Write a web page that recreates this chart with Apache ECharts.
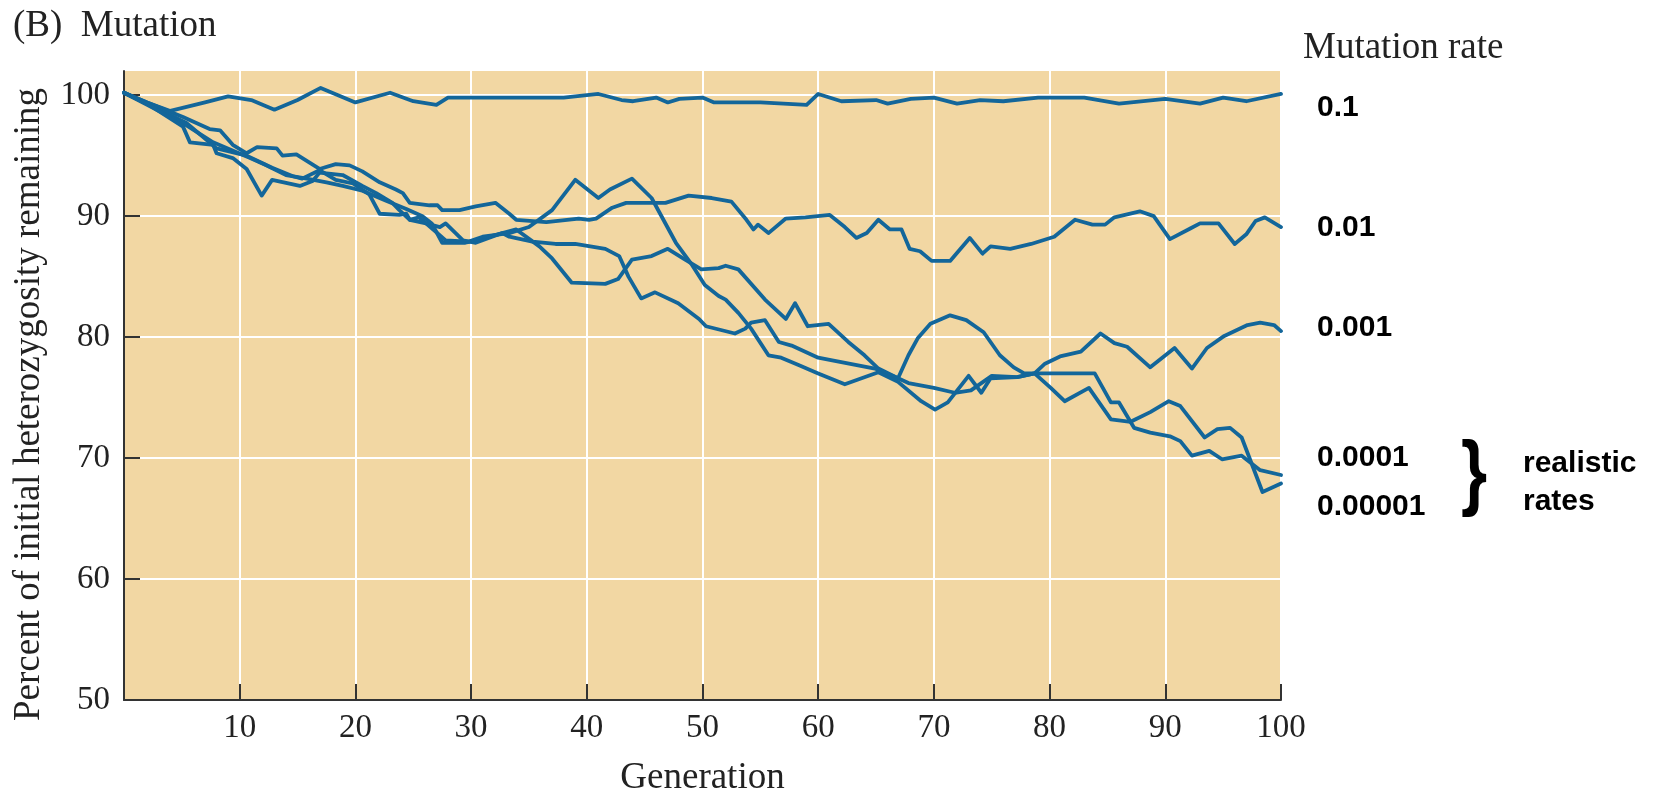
<!DOCTYPE html>
<html>
<head>
<meta charset="utf-8">
<script src="https://cdn.jsdelivr.net/npm/echarts@6/dist/echarts.min.js"></script>
<style>
html,body{margin:0;padding:0;background:#fff;overflow:hidden;}
#chart{width:1657px;height:791px;}
</style>
</head>
<body>
<div id="chart"></div>
<script>
// ---- Data: [generation, percent of initial heterozygosity remaining] ----
const rateLabels = ['0.1', '0.01', '0.001', '0.0001', '0.00001'];

const rate_0_1 = [[0,100.2],[2,99.4],[4,98.7],[7,99.4],[9,99.9],[11,99.6],[13,98.8],[15,99.6],[17,100.6],[20,99.4],[23,100.2],[25,99.5],[27,99.2],[28,99.8],[31,99.8],[35,99.8],[38,99.8],[41,100.1],[43,99.6],[44,99.5],[46,99.8],[47,99.4],[48,99.7],[50,99.8],[51,99.4],[55,99.4],[59,99.2],[60,100.1],[62,99.5],[65,99.6],[66,99.3],[68,99.7],[70,99.8],[72,99.3],[74,99.6],[76,99.5],[79,99.8],[83,99.8],[86,99.3],[90,99.7],[93,99.3],[95,99.8],[97,99.5],[100,100.1]];

const rate_0_01 = [[0,100.2],[2,99.4],[5.1,98.2],[7.4,97.2],[8.3,97.1],[9.4,95.9],[10.6,95.2],[11.5,95.7],[13.2,95.6],[13.7,95.0],[14.9,95.1],[16.9,93.9],[18.3,94.3],[19.5,94.2],[20.6,93.7],[22.1,92.8],[23.5,92.2],[24.1,91.9],[24.7,91.1],[26.4,90.9],[27.1,90.9],[27.5,90.5],[29,90.5],[30.4,90.8],[32.1,91.1],[33.3,90.2],[33.9,89.7],[36.5,89.5],[39.3,89.8],[40.2,89.7],[40.8,89.8],[42.2,90.7],[43.4,91.1],[45.6,91.1],[46.8,91.1],[48.8,91.7],[50.8,91.5],[52.5,91.2],[53.8,89.7],[54.4,88.9],[54.8,89.3],[55.7,88.6],[57.2,89.8],[58.9,89.9],[61,90.1],[62.3,89.1],[63.3,88.2],[64.2,88.6],[65.2,89.7],[66.2,88.9],[67.2,88.9],[67.9,87.3],[68.8,87.1],[69.8,86.3],[71.4,86.3],[73.1,88.2],[74.2,86.9],[74.9,87.5],[76.6,87.3],[78.4,87.7],[80.4,88.3],[82.2,89.7],[83.7,89.3],[84.8,89.3],[85.6,89.9],[87.8,90.4],[89,90.0],[90.4,88.1],[92.2,89.0],[93,89.4],[94.6,89.4],[96,87.7],[97,88.5],[97.8,89.6],[98.6,89.9],[100,89.1]];

const rate_0_001 = [[0,100.2],[2,99.3],[5.4,97.7],[8,95.6],[10.6,95.0],[12.8,94.0],[14.6,93.3],[15.4,93.1],[16.9,93.8],[18.3,93.0],[19.8,92.7],[21.2,91.8],[22.1,90.2],[23.8,90.1],[24.4,90.2],[24.7,89.7],[26.1,89.4],[27.3,89.1],[27.8,89.4],[29.3,88.0],[30.4,87.8],[32.7,88.6],[33.9,88.9],[35.9,87.5],[37,86.5],[38.7,84.5],[41.6,84.4],[42.7,84.8],[43.9,86.4],[45.6,86.7],[47,87.3],[48.5,86.4],[49.9,85.6],[51.4,85.7],[52,85.9],[53.1,85.6],[55.4,83.1],[57.2,81.5],[58,82.8],[59.1,80.9],[60.9,81.1],[62.6,79.6],[64,78.5],[65.2,77.4],[66.9,76.6],[67.8,78.5],[68.6,79.9],[69.7,81.1],[71.4,81.8],[72.8,81.4],[74.3,80.4],[75.7,78.5],[76.9,77.5],[77.8,77.0],[78.7,77.0],[79.6,77.8],[80.9,78.4],[82.7,78.8],[84.4,80.3],[85.6,79.5],[86.7,79.2],[88.7,77.5],[90.8,79.1],[92.3,77.4],[93.6,79.1],[95.1,80.1],[97.1,81.0],[98.2,81.2],[99.4,81.0],[100,80.5]];

const rate_0_0001 = [[0,100.2],[2,99.2],[5.4,97.5],[7.7,96.1],[10.9,94.8],[12.3,94.2],[14,93.4],[15.8,93.1],[17.5,92.8],[18.9,92.5],[20.6,92.1],[22.6,91.3],[24.4,90.6],[25.8,90.0],[26.6,89.4],[27.5,87.8],[29.5,87.8],[30.4,88.0],[32.7,88.6],[33.3,88.3],[35.3,87.9],[37.3,87.7],[39,87.7],[41.6,87.3],[42.8,86.7],[43.6,85.0],[44.7,83.2],[45.9,83.7],[47.9,82.8],[49.7,81.5],[50.3,80.9],[52.8,80.3],[53.7,80.7],[54.2,81.2],[55.4,81.4],[56.6,79.6],[57.7,79.3],[60,78.3],[61.1,78.1],[64.9,77.4],[66.9,76.6],[67.8,76.2],[70,75.8],[71.8,75.4],[73.2,75.6],[75,76.8],[77.2,76.7],[78.7,77.0],[83.9,77.0],[85.3,74.6],[86,74.6],[87.3,72.5],[88.7,72.1],[90.4,71.8],[91.3,71.4],[92.3,70.2],[93.8,70.6],[94.9,69.9],[96.6,70.2],[98.2,69.0],[100,68.6]];

const rate_0_00001 = [[0,100.2],[2,99.3],[5.1,97.4],[5.7,96.1],[7.7,95.9],[8,95.2],[9.4,94.8],[10.6,93.9],[11.9,91.7],[12.8,93.0],[15.2,92.5],[16.3,92.9],[16.9,93.6],[18.9,93.4],[20.6,92.5],[21.8,91.9],[23.2,91.1],[23.8,90.5],[24.7,89.7],[25.5,89.9],[26.6,89.0],[27.8,88.0],[29.8,87.9],[31,88.3],[33.3,88.6],[35,89.1],[37,90.5],[39,93.0],[41,91.5],[42,92.2],[43.9,93.1],[45.6,91.5],[47.7,87.8],[49,86.1],[50.2,84.3],[51.4,83.4],[52,83.1],[53.1,82.0],[54.2,80.7],[55.7,78.5],[56.8,78.3],[58.3,77.7],[60,77.0],[62.3,76.1],[65.2,77.1],[66.9,76.3],[68.9,74.7],[70.1,74.0],[71.2,74.6],[73,76.8],[74.1,75.4],[74.9,76.6],[77.2,76.7],[78.7,77.0],[80.1,75.8],[81.3,74.7],[83.4,75.8],[85.3,73.2],[87,73.0],[88.7,73.8],[90.3,74.7],[91.3,74.3],[93.4,71.7],[94.5,72.4],[95.6,72.5],[96.6,71.7],[98.4,67.2],[100,67.9]];

const xTicks = [10, 20, 30, 40, 50, 60, 70, 80, 90, 100];
const yTicks = [50, 60, 70, 80, 90, 100];

// ---- Chart ----
const seriesData = [rate_0_1, rate_0_01, rate_0_001, rate_0_0001, rate_0_00001];
const LINE = '#13669a';
const BG = '#F2D7A3';
const SERIF = '"Liberation Serif", "DejaVu Serif", serif';
const SANS = '"Liberation Sans", Arial, sans-serif';

const chart = echarts.init(document.getElementById('chart'), null, {renderer: 'canvas', width: 1657, height: 791});

const labelYs = [111, 231, 331, 461, 510];

chart.setOption({
  animation: false,
  backgroundColor: '#ffffff',
  title: [
    {text: '(B)  Mutation', left: 8, top: 3,
     textStyle: {fontFamily: SERIF, fontSize: 37, fontWeight: 'normal', color: '#222'}},
    {text: 'Mutation rate', left: 1298, top: 25,
     textStyle: {fontFamily: SERIF, fontSize: 37, fontWeight: 'normal', color: '#222'}}
  ],
  grid: {left: 124, right: 376, top: 71, bottom: 91, show: true,
         backgroundColor: BG, borderWidth: 0, containLabel: false,
         outerBoundsMode: 'none'},
  xAxis: {
    type: 'value', min: 0, max: 100, interval: 10,
    name: 'Generation', nameLocation: 'middle', nameGap: 60,
    nameTextStyle: {fontFamily: SERIF, fontSize: 37, color: '#222'},
    axisLine: {show: true, onZero: false, lineStyle: {color: '#333', width: 2}},
    axisTick: {show: true, inside: true, length: 16, customValues: xTicks,
               lineStyle: {color: '#333', width: 2}},
    axisLabel: {customValues: xTicks, margin: 12, fontFamily: SERIF, fontSize: 33, color: '#222'},
    splitLine: {show: true, lineStyle: {color: '#ffffff', width: 2}}
  },
  yAxis: {
    type: 'value', min: 50, max: 102, interval: 10,
    name: 'Percent of initial heterozygosity remaining', nameLocation: 'middle', nameGap: 76,
    nameTextStyle: {fontFamily: SERIF, fontSize: 37, color: '#222', padding: [0, 38, 0, 0]},
    axisLine: {show: true, onZero: false, lineStyle: {color: '#333', width: 2}},
    axisTick: {show: true, inside: true, length: 16, customValues: yTicks,
               lineStyle: {color: '#333', width: 2}},
    axisLabel: {customValues: yTicks, margin: 14, fontFamily: SERIF, fontSize: 33, color: '#222'},
    splitLine: {show: true, lineStyle: {color: '#ffffff', width: 2}}
  },
  series: seriesData.map((d, i) => ({
    name: rateLabels[i],
    type: 'line',
    data: d,
    showSymbol: false,
    symbol: 'none',
    clip: true,
    lineStyle: {color: LINE, width: 3.8, join: 'round', cap: 'round'},
    z: 3
  })),
  graphic: [
    ...rateLabels.map((t, i) => ({
      type: 'text', left: 1317, top: labelYs[i] - 18,
      style: {text: t, fontFamily: SANS, fontWeight: 'bold', fontSize: 30, fill: '#000'}
    })),
    {type: 'text', x: 1474, y: 477, scaleX: 0.8,
     style: {text: '}', fontFamily: SANS, fontWeight: 'bold', fontSize: 84, fill: '#000',
             align: 'center', verticalAlign: 'middle'}},
    {type: 'text', left: 1523, top: 449,
     style: {text: 'realistic', fontFamily: SANS, fontWeight: 'bold', fontSize: 30, fill: '#000'}},
    {type: 'text', left: 1523, top: 487,
     style: {text: 'rates', fontFamily: SANS, fontWeight: 'bold', fontSize: 30, fill: '#000'}}
  ]
});
</script>
</body>
</html>
